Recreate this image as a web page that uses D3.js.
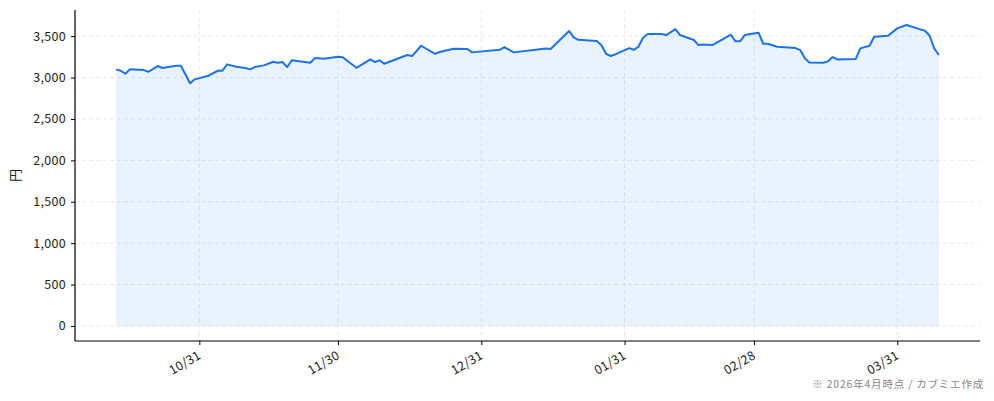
<!DOCTYPE html>
<html>
<head>
<meta charset="utf-8">
<script src="https://cdn.jsdelivr.net/npm/d3@7"></script>
<style>
  body { margin: 0; background: #fff; }
  text { font-family: "Noto Sans CJK JP", "Noto Sans", sans-serif; }
</style>
</head>
<body>
<svg id="chart" width="994" height="401"></svg>
<script>
// price points (date, yen)
const dates = [
  "2025-10-13","2025-10-14","2025-10-15","2025-10-16","2025-10-19","2025-10-20","2025-10-22","2025-10-23",
  "2025-10-26","2025-10-27","2025-10-29","2025-10-30","2025-11-02","2025-11-04","2025-11-05","2025-11-06",
  "2025-11-08","2025-11-10","2025-11-11","2025-11-12","2025-11-14","2025-11-16","2025-11-17","2025-11-18",
  "2025-11-19","2025-11-20","2025-11-24","2025-11-25","2025-11-27","2025-11-30","2025-12-01","2025-12-04",
  "2025-12-07","2025-12-08","2025-12-09","2025-12-10","2025-12-15","2025-12-16","2025-12-18","2025-12-21",
  "2025-12-22","2025-12-25","2025-12-28","2025-12-29","2026-01-04","2026-01-05","2026-01-07","2026-01-14",
  "2026-01-15","2026-01-19","2026-01-20","2026-01-21","2026-01-25","2026-01-26","2026-01-27","2026-01-28",
  "2026-01-29","2026-02-01","2026-02-02","2026-02-03","2026-02-04","2026-02-05","2026-02-08","2026-02-09",
  "2026-02-11","2026-02-12","2026-02-15","2026-02-16","2026-02-17","2026-02-19","2026-02-23","2026-02-24",
  "2026-02-25","2026-02-26","2026-03-01","2026-03-02","2026-03-03","2026-03-05","2026-03-09","2026-03-10",
  "2026-03-11","2026-03-12","2026-03-15","2026-03-16","2026-03-17","2026-03-18","2026-03-22","2026-03-23",
  "2026-03-25","2026-03-26","2026-03-29","2026-03-31","2026-04-02","2026-04-05","2026-04-06","2026-04-07",
  "2026-04-08","2026-04-09"
];
const prices = [
  3099,3082,3046,3099,3090,3070,3139,3115,
  3142,3142,2930,2978,3022,3082,3082,3159,
  3130,3115,3099,3127,3147,3191,3179,3187,
  3127,3208,3179,3235,3227,3251,3245,3118,
  3219,3187,3208,3166,3272,3259,3384,3287,
  3308,3348,3344,3304,3335,3368,3304,3352,
  3344,3561,3485,3456,3440,3390,3287,3260,
  3280,3356,3335,3372,3480,3525,3525,3513,
  3585,3513,3453,3392,3400,3392,3517,3437,
  3437,3513,3541,3408,3408,3372,3356,3332,
  3232,3183,3179,3195,3247,3219,3223,3352,
  3384,3492,3505,3594,3634,3582,3565,3505,
  3352,3272
];
const xTickDates = ["2025-10-31","2025-11-30","2025-12-31","2026-01-31","2026-02-28","2026-03-31"];
const yTicks = [0,500,1000,1500,2000,2500,3000,3500];
const yLabel = "円";
const note = "※ 2026年4月時点 / カブミエ作成";

const parse = d3.timeParse("%Y-%m-%d");
const data = dates.map((d, i) => ({ date: parse(d), v: prices[i] }));

const svg = d3.select("#chart");
const mL = 75, mR = 980, mT = 10, mB = 341;

// matplotlib-like 5% margins
const [x0, x1] = d3.extent(data, d => d.date);
const xPad = (x1 - x0) * 0.05;
const x = d3.scaleTime()
  .domain([new Date(+x0 - xPad), new Date(+x1 + xPad)])
  .range([mL, mR]);
const yMax = d3.max(prices), yPad = yMax * 0.05;
const y = d3.scaleLinear()
  .domain([-yPad, yMax + yPad])
  .range([mB, mT]);

const ticks = xTickDates.map(parse);

// grid
svg.append("g")
  .selectAll("line")
  .data(yTicks)
  .join("line")
  .attr("x1", mL).attr("x2", mR)
  .attr("y1", d => y(d)).attr("y2", d => y(d))
  .attr("stroke", "#e3e3e3").attr("stroke-width", 0.8)
  .attr("stroke-dasharray", "4,3");
svg.append("g")
  .selectAll("line")
  .data(ticks)
  .join("line")
  .attr("x1", d => x(d)).attr("x2", d => x(d))
  .attr("y1", mT).attr("y2", mB)
  .attr("stroke", "#e3e3e3").attr("stroke-width", 0.8)
  .attr("stroke-dasharray", "4,3");

// area + line
const area = d3.area()
  .x(d => x(d.date))
  .y0(y(0))
  .y1(d => y(d.v));
svg.append("path")
  .datum(data)
  .attr("d", area)
  .attr("fill", "#1a73e8")
  .attr("fill-opacity", 0.09);

const line = d3.line()
  .x(d => x(d.date))
  .y(d => y(d.v));
svg.append("path")
  .datum(data)
  .attr("d", line)
  .attr("fill", "none")
  .attr("stroke", "#1a73e8")
  .attr("stroke-width", 2)
  .attr("stroke-linejoin", "round");

// axes
const yAxis = svg.append("g")
  .attr("transform", `translate(${mL},0)`)
  .call(d3.axisLeft(y).tickValues(yTicks).tickSize(4).tickPadding(5).tickFormat(d3.format(",")));
yAxis.select(".domain").attr("d", `M0,${mT}V${mB}`).attr("stroke", "#000").attr("stroke-width", 1.2);
yAxis.selectAll(".tick line").attr("stroke", "#000");
yAxis.selectAll(".tick text").attr("font-size", 12.5).attr("fill", "#222")
  .attr("letter-spacing", 0.3);

const fmt = d3.timeFormat("%m/%d");
const xAxis = svg.append("g")
  .attr("transform", `translate(0,${mB})`)
  .call(d3.axisBottom(x).tickValues(ticks).tickSize(4).tickFormat(fmt));
xAxis.select(".domain").attr("d", `M${mL},0H${mR}`).attr("stroke", "#000").attr("stroke-width", 1.2);
xAxis.selectAll(".tick line").attr("stroke", "#000");
xAxis.selectAll(".tick text")
  .attr("font-size", 12.5).attr("fill", "#222")
  .attr("letter-spacing", 0.3)
  .attr("text-anchor", "end")
  .attr("dy", null).attr("y", 0)
  .attr("transform", "translate(2,17) rotate(-30)");

// y label
svg.append("text")
  .attr("transform", `translate(20,${(mT + mB) / 2}) rotate(-90)`)
  .attr("text-anchor", "middle")
  .attr("font-size", 13)
  .attr("fill", "#222")
  .text(yLabel);

// footnote
svg.append("text")
  .attr("x", 984).attr("y", 388)
  .attr("text-anchor", "end")
  .attr("font-size", 10.5)
  .attr("letter-spacing", 0.8)
  .attr("fill", "#888")
  .text(note);
</script>
</body>
</html>
